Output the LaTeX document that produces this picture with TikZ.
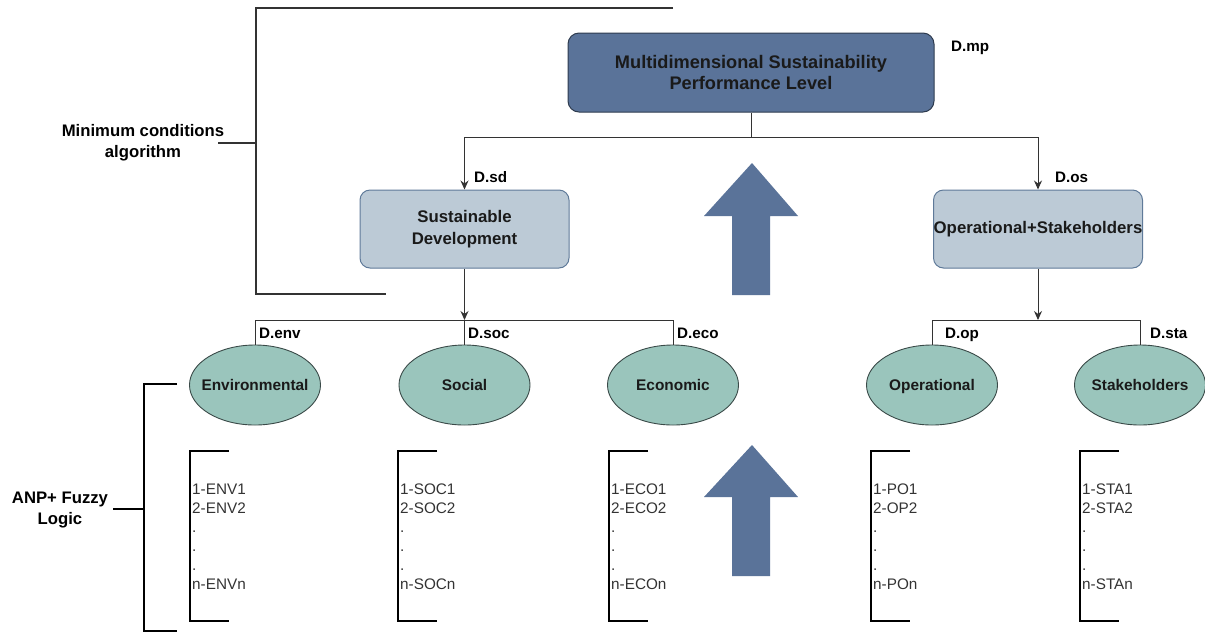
\documentclass[tikz,border=0pt]{standalone}
\usepackage{fontspec}
\setmainfont{Liberation Sans}
\usetikzlibrary{shapes.geometric,arrows.meta}
\definecolor{topblue}{HTML}{5A7399}
\definecolor{topedge}{HTML}{2E3B4E}
\definecolor{midfill}{HTML}{BCCAD6}
\definecolor{midedge}{HTML}{5F7A99}
\definecolor{ellfill}{HTML}{9AC5BC}
\definecolor{elledge}{HTML}{3A4A48}
\definecolor{txt}{HTML}{1A1A1A}
\definecolor{linecol}{HTML}{333333}
\tikzset{
  topbox/.style={draw=topedge, fill=topblue, line width=1pt, rounded corners=11pt,
    minimum width=366pt, minimum height=79pt, inner sep=0pt, align=center,
    text=txt, font=\fontsize{18.2}{21.5}\selectfont\bfseries},
  midbox/.style={draw=midedge, fill=midfill, line width=1pt, rounded corners=10pt,
    minimum width=209pt, minimum height=78pt, inner sep=0pt, align=center,
    text=txt, font=\fontsize{16.8}{21.5}\selectfont\bfseries},
  dimell/.style={ellipse, draw=elledge, fill=ellfill, line width=0.9pt,
    minimum width=131pt, minimum height=80pt, inner ysep=0pt, inner xsep=-30pt,
    text height=11pt, text depth=0pt,
    text=txt, font=\fontsize{15.4}{17}\selectfont\bfseries},
  dlab/.style={anchor=west, inner sep=0pt, text height=10.8pt, text depth=0pt,
    text=black, font=\fontsize{15.2}{17}\selectfont\bfseries},
  sidelab/.style={align=center, inner sep=0pt, text=black, font=\fontsize{16.7}{21}\selectfont\bfseries},
  conn/.style={draw=linecol, line width=1pt},
  arr/.style={conn, -{Stealth[length=9pt, width=8pt]}},
  bigarrow/.style={fill=topblue},
  brkthin/.style={draw=linecol, line width=1.3pt},
  brkthick/.style={draw=black, line width=2.6pt},
  listtxt/.style={anchor=north west, inner sep=0pt, align=left, text=black!80,
    font=\fontsize{15.3}{19}\selectfont},
}
\begin{document}
\begin{tikzpicture}[x=1pt, y=-1pt]
\useasboundingbox (0,0) rectangle (1205,633);

% main boxes
\node[topbox] (mp) at (751,72.5) {Multidimensional Sustainability\\Performance Level};
\node[dlab] (dmp) at (951,46) {D.mp};
\node[midbox] (sd) at (464.5,229) {Sustainable\\Development};
\node[midbox] (os) at (1038,229) {Operational+Stakeholders};
\node[dlab] (dsd) at (474,177) {D.sd};
\node[dlab] (dos) at (1055,177) {D.os};

% ellipses
\node[dimell] (env) at (255,385) {Environmental};
\node[dimell] (soc) at (464.5,385) {Social};
\node[dimell] (eco) at (673,385) {Economic};
\node[dimell] (op) at (932,385) {Operational};
\node[dimell] (sta) at (1140,385) {Stakeholders};
\node[dlab] (denv) at (259,333) {D.env};
\node[dlab] (dsoc) at (468,333) {D.soc};
\node[dlab] (deco) at (677,333) {D.eco};
\node[dlab] (dop) at (945,333) {D.op};
\node[dlab] (dsta) at (1150,333) {D.sta};

% hierarchy connectors
\coordinate (j1) at (751,137);
\draw[conn] (mp.south) -- (j1);
\draw[arr] (j1) -| (sd.north);
\draw[arr] (j1) -| (os.north);
\coordinate (j2) at (464.5,320);
\draw[arr] (sd.south) -- (j2);
\draw[conn] (env.north) -- (env.north |- j2) -- (eco.north |- j2) -- (eco.north);
\draw[conn] (soc.north) -- (j2);
\coordinate (j3) at (1038,320);
\draw[arr] (os.south) -- (j3);
\draw[conn] (op.north) -- (op.north |- j3) -- (sta.north |- j3) -- (sta.north);

% big arrows
\fill[bigarrow] (752,163) -- (798,216) -- (770,216) -- (770,295) -- (732,295) -- (732,216) -- (704,216) -- cycle;
\fill[bigarrow] (752,445) -- (798,497) -- (770,497) -- (770,576) -- (732,576) -- (732,497) -- (704,497) -- cycle;

% minimum conditions bracket
\node[sidelab] (mc) at (143,142.5) {Minimum conditions\\algorithm};
\coordinate (mct) at (673,8);
\coordinate (mcb) at (386,294);
\coordinate (mcv) at (256,143);
\draw[brkthin] (mct) -- (256,8) -- (256,294) -- (mcb);
\draw[brkthin] (218,143) -- (mcv);

% ANP bracket
\node[sidelab] (anp) at (60,510) {ANP+ Fuzzy\\Logic};
\coordinate (anpv) at (144,509);
\draw[brkthick] (177,384) -- (144,384) -- (144,631) -- (177,631);
\draw[brkthick] (113,509) -- (anpv);

% indicator lists
\foreach \x/\a/\b/\n [count=\i] in {190/1-ENV1/2-ENV2/n-ENVn, 398/1-SOC1/2-SOC2/n-SOCn, 609/1-ECO1/2-ECO2/n-ECOn, 871/1-PO1/2-OP2/n-POn, 1080/1-STA1/2-STA2/n-STAn}{
  \draw[brkthick] (\x+39,451) -- (\x,451) -- (\x,621) -- (\x+39,621);
  \node[listtxt] (list\i) at (\x+2,484) {\a\\\b\\.\\.\\.\\\n};
}
\end{tikzpicture}
\end{document}
